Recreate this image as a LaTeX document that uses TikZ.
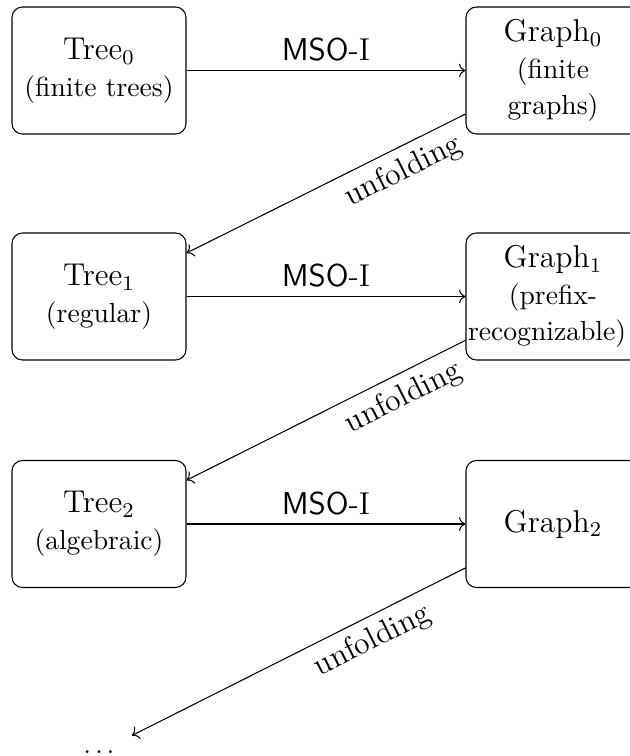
\documentclass[tikz,border=0pt]{standalone}
\usetikzlibrary{arrows.meta}
\begin{document}
\begin{tikzpicture}[x=0.3802pt,y=-0.3802pt,
  box/.style={draw, rounded corners=4pt, minimum width=174*0.3802pt,
    minimum height=127*0.3802pt, inner sep=0pt, align=center,
    font={\fontsize{10.5}{13.9}\selectfont}},
  lab/.style={font=\large},
  dotsnode/.style={minimum width=66*0.3802pt, minimum height=32*0.3802pt, inner sep=0pt}]
\useasboundingbox (0,0) rectangle (630,756);
\node[box] (t0) at (99,70.5) {{\large Tree$_0$}\\(finite trees)};
\node[box] (t1) at (99,296.5) {{\large Tree$_1$}\\(regular)};
\node[box] (t2) at (99,524) {{\large Tree$_2$}\\(algebraic)};
\node[box] (g0) at (553,70.5) {{\large Graph$_0$}\\(finite\\graphs)};
\node[box] (g1) at (553,296.5) {{\large Graph$_1$}\\(prefix-\\recognizable)\hspace*{4.5pt}};
\node[box] (g2) at (553,524) {{\large Graph$_2$}};
\node[dotsnode] (dots) at (99,752) {$\dots$};
\draw[->] (t0) -- node[lab, above] {\textsf{MSO}-I} (g0);
\draw[->] (t1) -- node[lab, above] {\textsf{MSO}-I} (g1);
\draw[->] (t2) -- node[lab, above] {\textsf{MSO}-I} (g2);
\draw[->] (g0) -- node[lab, below, sloped, pos=0.26] {unfolding} (t1);
\draw[->] (g1) -- node[lab, below, sloped, pos=0.26] {unfolding} (t2);
\draw[->] (g2) -- node[lab, below, sloped, pos=0.31] {unfolding} (dots);
\end{tikzpicture}
\end{document}
